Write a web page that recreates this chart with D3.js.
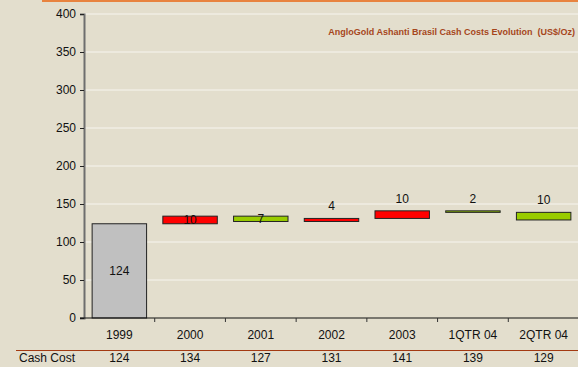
<!DOCTYPE html>
<html>
<head>
<meta charset="utf-8">
<script src="https://cdn.jsdelivr.net/npm/d3@7"></script>
<style>
  html, body { margin: 0; padding: 0; background: #e3decd; }
  svg { display: block; font-family: "Liberation Sans", Arial, sans-serif; }
</style>
</head>
<body>
<svg id="chart" width="578" height="367"></svg>
<script>
// Cash cost per period (US$/oz)
const categories = ["1999", "2000", "2001", "2002", "2003", "1QTR 04", "2QTR 04"];
const cashCost = [124, 134, 127, 131, 141, 139, 129];
const yTicks = [0, 50, 100, 150, 200, 250, 300, 350, 400];
const rowLabel = "Cash Cost";
const title = "AngloGold Ashanti Brasil Cash Costs Evolution  (US$/Oz)";

const W = 578, H = 367;
const plotLeft = 84, plotRight = 579, plotTop = 14, plotBottom = 318;

const svg = d3.select("#chart");

// Header rule
svg.append("line").attr("x1", 42).attr("x2", W).attr("y1", 1).attr("y2", 1)
  .attr("stroke", "#e8833f").attr("stroke-width", 2);

const x = d3.scaleBand().domain(categories).range([plotLeft, plotRight]).padding(0);
const y = d3.scaleLinear().domain([0, 400]).range([plotBottom, plotTop]);

// Horizontal grid
svg.append("g").selectAll("line").data(yTicks.filter(d => d > 0)).join("line")
  .attr("x1", plotLeft).attr("x2", W)
  .attr("y1", d => y(d)).attr("y2", d => y(d))
  .attr("stroke", "#f7f5ef").attr("stroke-width", 1);

// Waterfall segments: first bar from zero, then each change from previous value
const segs = cashCost.map((v, i) => {
  if (i === 0) return { cat: categories[i], lo: 0, hi: v, label: v, kind: "base" };
  const p = cashCost[i - 1];
  return { cat: categories[i], lo: Math.min(p, v), hi: Math.max(p, v),
           label: Math.abs(v - p), kind: v > p ? "up" : "down" };
});
const fill = { base: "#c0c0c0", up: "#ff0000", down: "#99cc00" };
const bw = x.bandwidth() * 0.77;

svg.append("g").selectAll("rect").data(segs).join("rect")
  .attr("x", d => x(d.cat) + (x.bandwidth() - bw) / 2)
  .attr("width", bw)
  .attr("y", d => y(d.hi))
  .attr("height", d => Math.max(y(d.lo) - y(d.hi), 1))
  .attr("fill", d => fill[d.kind])
  .attr("stroke", "#222").attr("stroke-width", 1);

// Value labels: inside the base bar and the first two changes, above the rest
svg.append("g").selectAll("text").data(segs).join("text")
  .attr("x", d => x(d.cat) + x.bandwidth() / 2)
  .attr("y", (d, i) => i < 3 ? (y(d.hi) + y(d.lo)) / 2 + 4 : y(d.hi) - 8)
  .attr("text-anchor", "middle")
  .attr("font-size", 12).attr("fill", "#111")
  .text(d => d.label);

// Y axis
const yAxis = svg.append("g").attr("transform", `translate(${plotLeft},0)`)
  .call(d3.axisLeft(y).tickValues(yTicks).tickSize(4).tickPadding(4));
yAxis.select(".domain").attr("stroke", "#6e6e6e").attr("stroke-width", 2);
yAxis.selectAll(".tick line").attr("stroke", "#222");
yAxis.selectAll(".tick text").attr("font-size", 12).attr("fill", "#111")
  .attr("font-family", "Liberation Sans, Arial, sans-serif");

// X axis baseline with boundary ticks
svg.append("line").attr("x1", plotLeft - 4).attr("x2", W).attr("y1", plotBottom).attr("y2", plotBottom)
  .attr("stroke", "#111").attr("stroke-width", 1.2);
svg.append("g").selectAll("line").data(categories.slice(1)).join("line")
  .attr("x1", d => x(d)).attr("x2", d => x(d))
  .attr("y1", plotBottom).attr("y2", plotBottom + 4)
  .attr("stroke", "#333").attr("stroke-width", 1);

// Category labels
svg.append("g").selectAll("text").data(categories).join("text")
  .attr("x", d => x(d) + x.bandwidth() / 2).attr("y", 339)
  .attr("text-anchor", "middle").attr("font-size", 12).attr("fill", "#111")
  .text(d => d);

// Data row
svg.append("line").attr("x1", 16).attr("x2", W).attr("y1", 350.5).attr("y2", 350.5)
  .attr("stroke", "#a33a12").attr("stroke-width", 1.2);
svg.append("text").attr("x", 19).attr("y", 362).attr("font-size", 12).attr("fill", "#111")
  .text(rowLabel);
svg.append("g").selectAll("text").data(cashCost).join("text")
  .attr("x", (d, i) => x(categories[i]) + x.bandwidth() / 2).attr("y", 362)
  .attr("text-anchor", "middle").attr("font-size", 12).attr("fill", "#111")
  .text(d => d);

// Chart title (keeps its double space)
svg.append("text").attr("x", 575).attr("y", 34.5)
  .attr("text-anchor", "end").attr("font-size", 9).attr("font-weight", "bold")
  .style("white-space", "pre")
  .attr("fill", "#a6461c").text(title);
</script>
</body>
</html>
